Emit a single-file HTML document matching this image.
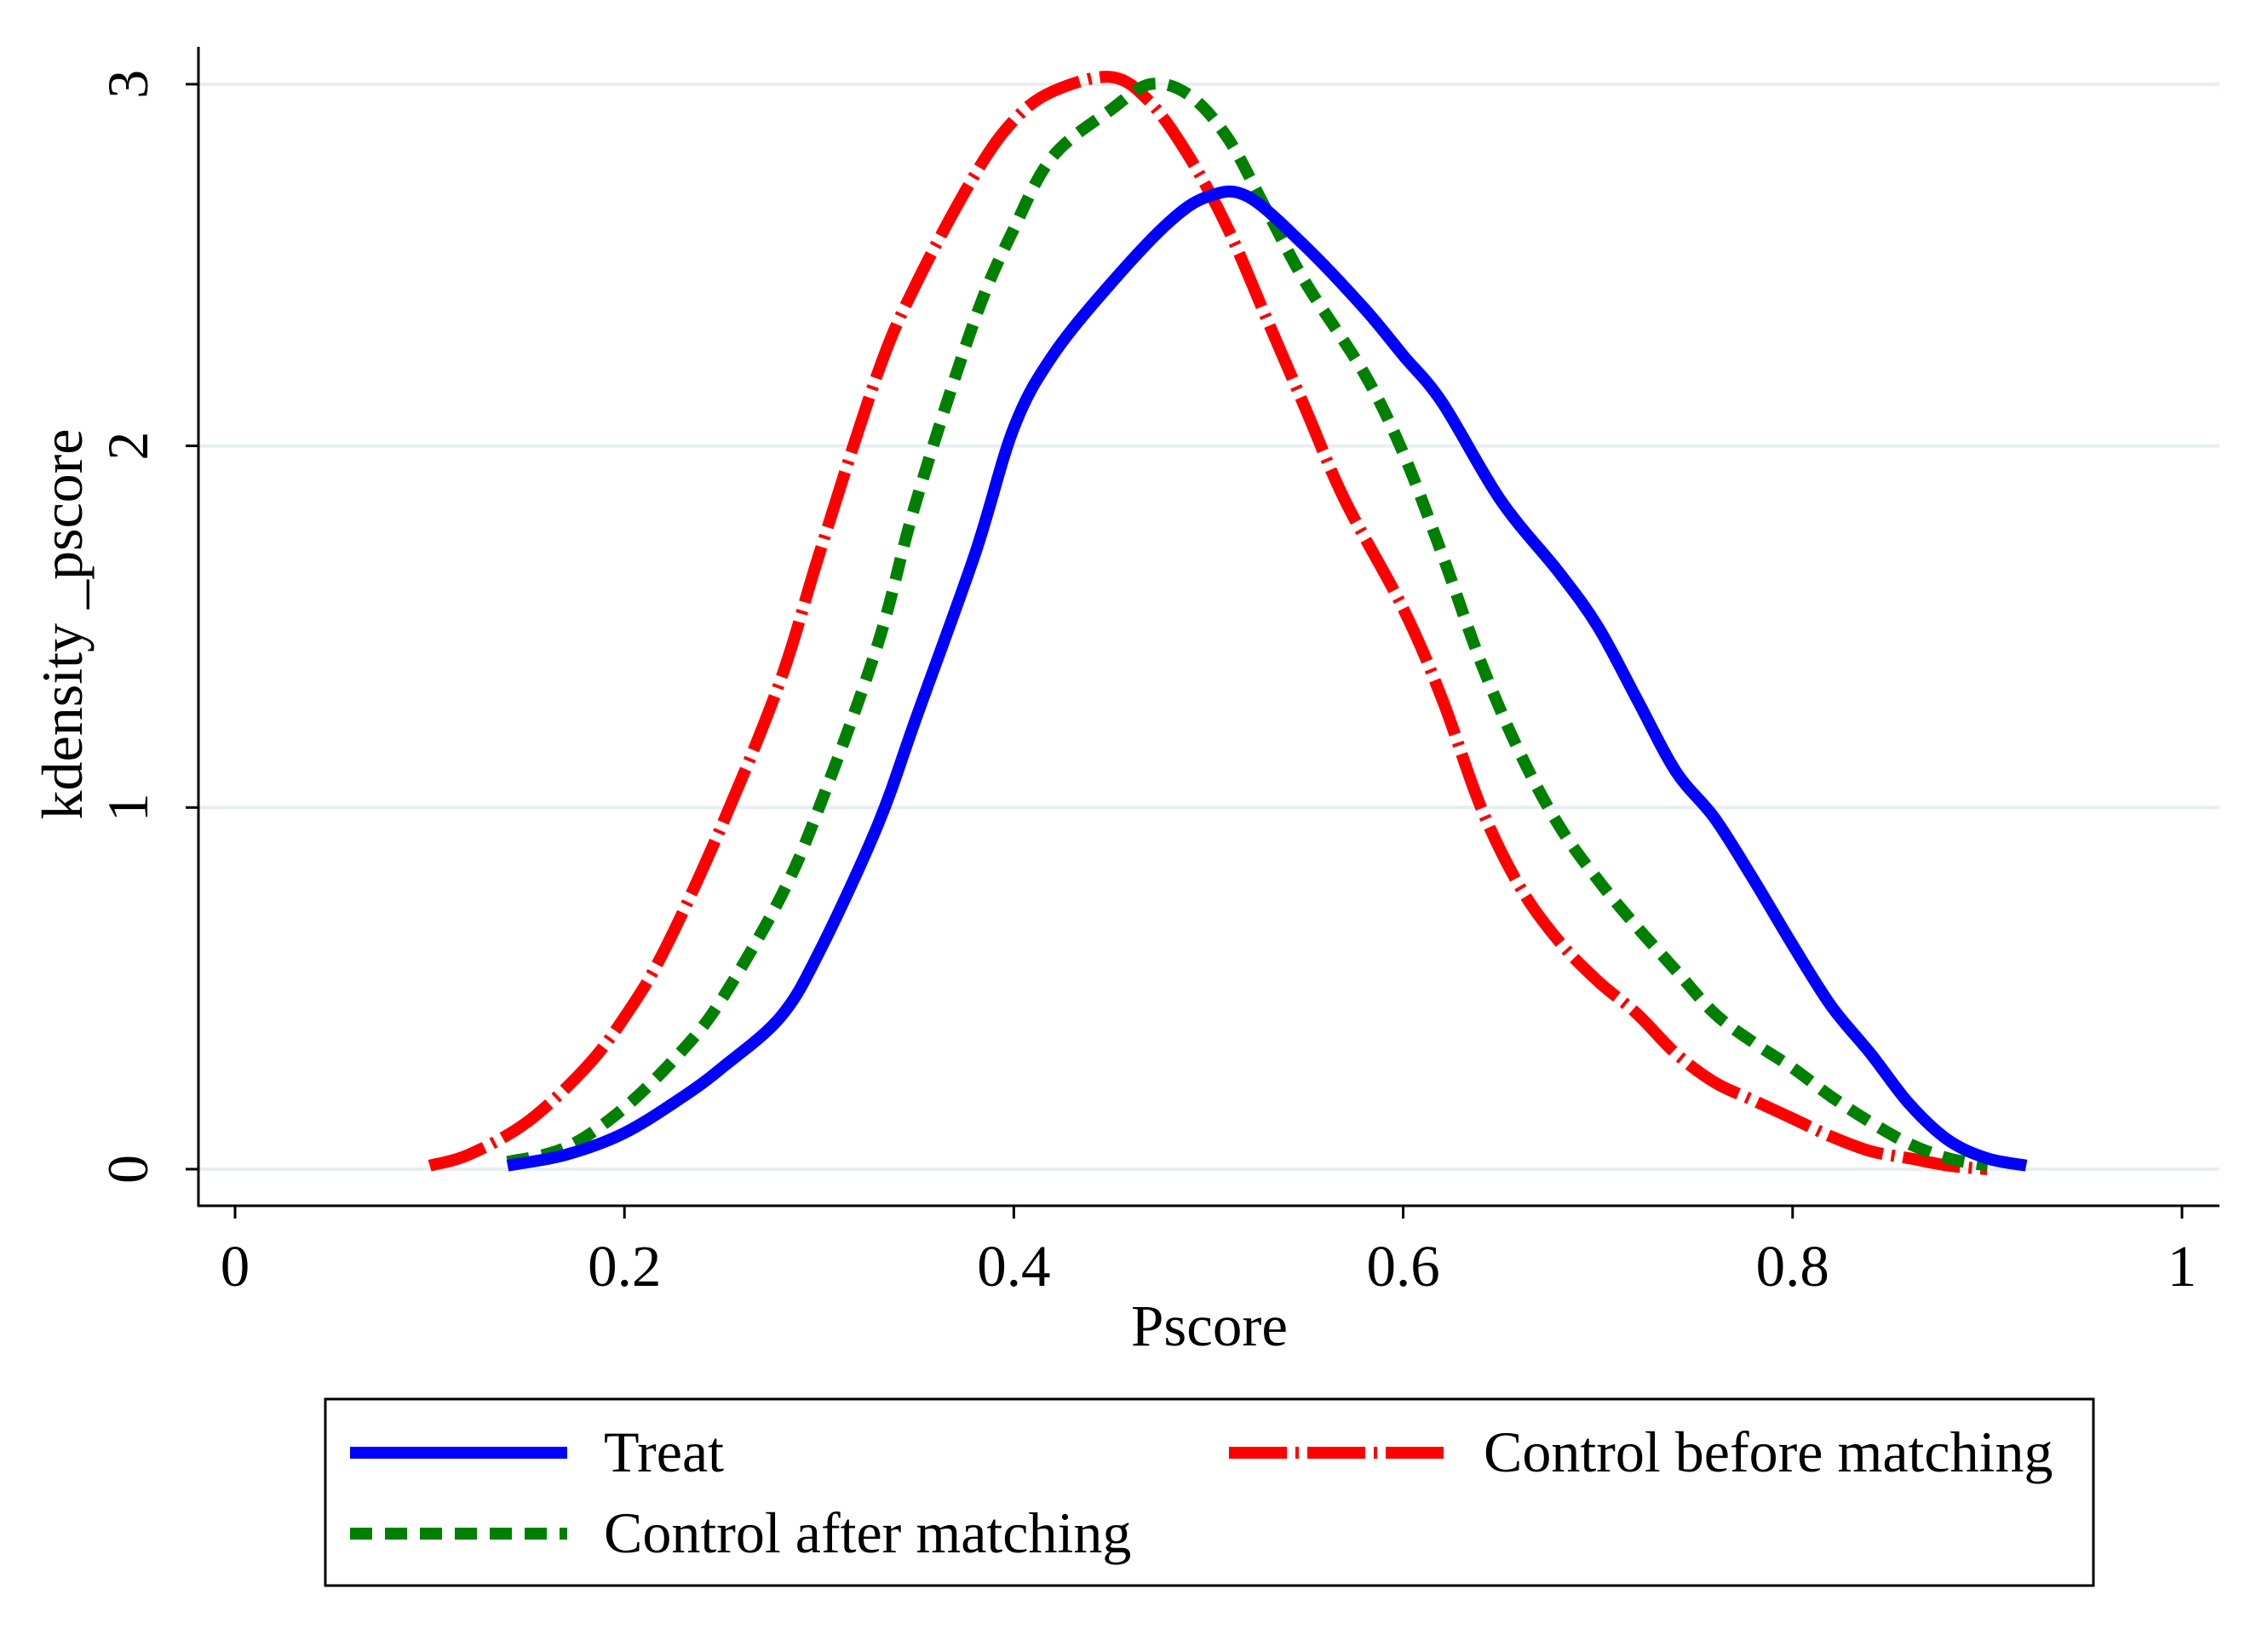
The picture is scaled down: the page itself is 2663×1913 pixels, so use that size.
<!DOCTYPE html>
<html><head><meta charset="utf-8"><style>
body{margin:0;background:#fff}
svg{display:block}
text{font-family:"Liberation Serif",serif;fill:#000}
</style></head><body>
<svg id="chart" width="2663" height="1913">
<g id="grid"></g><g id="axes"></g><g id="series"></g>
<text x="1420" y="1580" font-size="69" text-anchor="middle">Pscore</text>
<text transform="translate(96,733) rotate(-90)" font-size="68" text-anchor="middle">kdensity _pscore</text>
<g>
<rect x="382" y="1643" width="2076" height="219" fill="#fff" stroke="#000" stroke-width="3"/>
<line x1="411" y1="1706" x2="666" y2="1706" stroke="#0000ff" stroke-width="14"/>
<text x="709" y="1728" font-size="68">Treat</text>
<line x1="1443" y1="1706" x2="1701" y2="1706" stroke="#ff0000" stroke-width="14" stroke-dasharray="68 10 4 10"/>
<text x="1742" y="1728" font-size="68">Control before matching</text>
<line x1="411" y1="1801" x2="666" y2="1801" stroke="#008000" stroke-width="14" stroke-dasharray="26 15"/>
<text x="709" y="1823" font-size="68">Control after matching</text>
</g>
</svg>
<script>
const xTicks=[0,0.2,0.4,0.6,0.8,1];
const xTickLabels=["0","0.2","0.4","0.6","0.8","1"];
const yTicks=[0,1,2,3];
const yTickLabels=["0","1","2","3"];
const treatX=[0.14,0.17,0.2,0.23,0.25,0.28,0.3,0.33,0.35,0.38,0.4,0.42,0.45,0.48,0.5,0.52,0.55,0.58,0.6,0.62,0.65,0.68,0.7,0.72,0.74,0.76,0.78,0.8,0.82,0.84,0.86,0.88,0.9,0.92];
const treatY=[0.01,0.04,0.1,0.2,0.28,0.42,0.6,0.95,1.25,1.7,2.05,2.25,2.45,2.62,2.69,2.69,2.55,2.38,2.25,2.12,1.85,1.65,1.5,1.3,1.1,0.97,0.8,0.62,0.45,0.32,0.18,0.08,0.03,0.01];
const afterX=[0.14,0.17,0.2,0.23,0.25,0.28,0.3,0.33,0.35,0.38,0.4,0.42,0.45,0.47,0.49,0.51,0.53,0.55,0.58,0.6,0.62,0.64,0.66,0.68,0.7,0.72,0.74,0.76,0.78,0.8,0.82,0.84,0.86,0.88,0.9];
const afterY=[0.02,0.06,0.17,0.33,0.47,0.75,1.0,1.45,1.85,2.35,2.6,2.8,2.93,3.0,2.97,2.85,2.65,2.45,2.2,1.98,1.7,1.4,1.15,0.95,0.8,0.67,0.55,0.43,0.35,0.28,0.2,0.13,0.07,0.03,0.01];
const beforeX=[0.1,0.12,0.15,0.18,0.2,0.22,0.25,0.28,0.3,0.33,0.35,0.38,0.4,0.42,0.45,0.47,0.49,0.51,0.53,0.55,0.57,0.6,0.62,0.64,0.66,0.68,0.7,0.72,0.74,0.76,0.78,0.8,0.82,0.84,0.86,0.88,0.9];
const beforeY=[0.01,0.04,0.13,0.28,0.42,0.6,0.95,1.35,1.7,2.2,2.45,2.75,2.9,2.98,3.02,2.95,2.8,2.6,2.35,2.1,1.85,1.55,1.3,1.0,0.78,0.63,0.52,0.43,0.32,0.24,0.19,0.14,0.09,0.05,0.03,0.01,0.0];
const NS="http://www.w3.org/2000/svg";
const sx=v=>276+v*2286;
const sy=v=>1373-v*424.7;
function mk(tag,attrs,parent){const e=document.createElementNS(NS,tag);for(const k in attrs)e.setAttribute(k,attrs[k]);parent.appendChild(e);return e;}
const grid=document.getElementById('grid'),axes=document.getElementById('axes'),series=document.getElementById('series');
yTicks.forEach((t,i)=>{
 const g=mk('line',{x1:233,x2:2606,y1:sy(t),y2:sy(t),stroke:'#e6eef2','stroke-width':4},grid);
 
 
 const tk=mk('line',{x1:218,x2:233,y1:sy(t),y2:sy(t),stroke:'#000','stroke-width':3},axes);
 
 
 const tx=mk('text',{transform:`translate(173,${sy(t)}) rotate(-90)`,'font-size':68,'text-anchor':'middle'},axes);
 tx.textContent=yTickLabels[i];
 
 
});
xTicks.forEach((t,i)=>{
 const tk=mk('line',{x1:sx(t),x2:sx(t),y1:1416,y2:1431,stroke:'#000','stroke-width':3},axes);
 
 
 const tx=mk('text',{x:sx(t),y:1510,'font-size':69,'text-anchor':'middle'},axes);
 tx.textContent=xTickLabels[i];
 
 
});
const ya=mk('line',{x1:233,x2:233,y1:55,y2:1417,stroke:'#000','stroke-width':3},axes);


const xa=mk('line',{x1:232,x2:2606,y1:1416,y2:1416,stroke:'#000','stroke-width':3},axes);


function smooth(pts){
 let d='M'+pts[0][0].toFixed(1)+' '+pts[0][1].toFixed(1);
 for(let i=0;i<pts.length-1;i++){
  const p0=pts[Math.max(0,i-1)],p1=pts[i],p2=pts[i+1],p3=pts[Math.min(pts.length-1,i+2)];
  const c1=[p1[0]+(p2[0]-p0[0])/6,p1[1]+(p2[1]-p0[1])/6];
  const c2=[p2[0]-(p3[0]-p1[0])/6,p2[1]-(p3[1]-p1[1])/6];
  d+=` C${c1[0].toFixed(1)} ${c1[1].toFixed(1)} ${c2[0].toFixed(1)} ${c2[1].toFixed(1)} ${p2[0].toFixed(1)} ${p2[1].toFixed(1)}`;
 }
 return d;
}
function draw(xs,ys,color,dash,name){
 const pts=xs.map((x,i)=>[sx(x),sy(ys[i])]);
 const p=mk('path',{d:smooth(pts),fill:'none',stroke:color,'stroke-width':14,'stroke-linejoin':'round','stroke-dasharray':dash},series);
 
 
}
draw(beforeX,beforeY,'#ff0000','68 10 4 10','control-before-matching-line');
draw(afterX,afterY,'#008000','26 15','control-after-matching-line');
draw(treatX,treatY,'#0000ff','none','treat-line');
</script>
</body></html>
